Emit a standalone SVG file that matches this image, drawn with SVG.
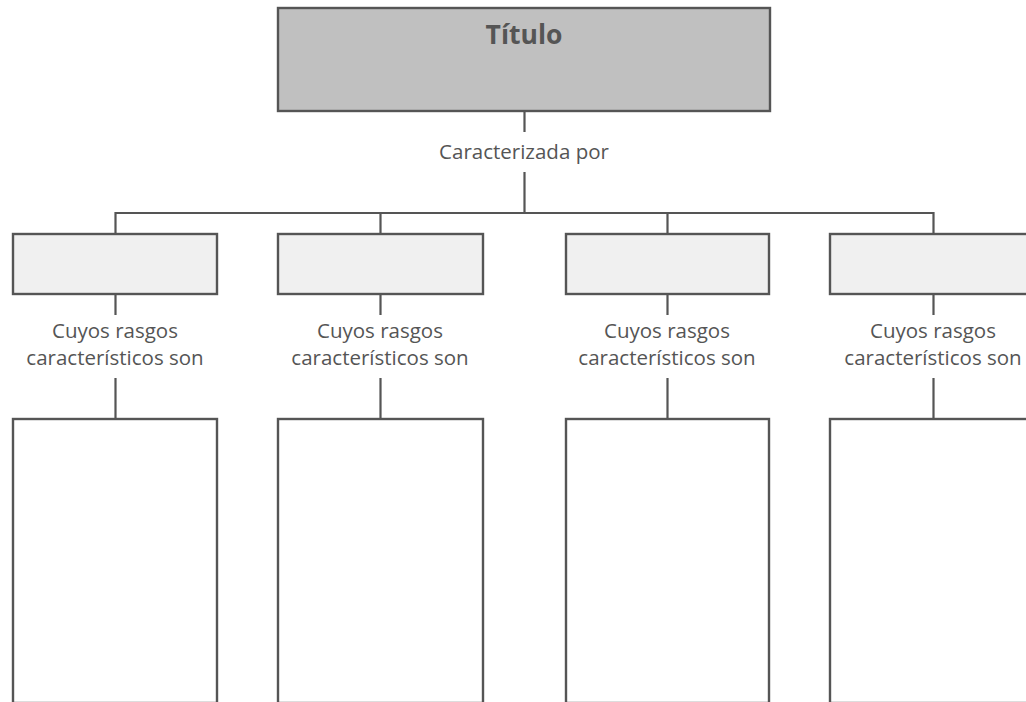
<svg xmlns="http://www.w3.org/2000/svg" width="1026" height="702" viewBox="0 0 1026 702">
<style>
.ln{stroke:#555;stroke-width:2.2;fill:none}
.bx{stroke:#555;stroke-width:2.4}
.t{font-family:"Open Sans","Noto Sans",sans-serif;fill:#555;text-anchor:middle}
.cap{font-size:20.5px}
</style>
<rect width="1026" height="702" fill="#fff"/>
<g id="connectors">
<path class="ln" d="M524.5 111V132M524.5 172V213M115.5 235V213H933.5V235M380.5 213V235M667.5 213V235"/>
<path class="ln" d="M115.5 294V315M115.5 378V419M380.5 294V315M380.5 378V419M667.5 294V315M667.5 378V419M933.5 294V315M933.5 378V419"/>
</g>
<g id="title">
<rect class="bx" x="278" y="8" width="492" height="103" fill="#c0c0c0"/>
<text class="t" x="524" y="44" font-size="26.5" font-weight="bold">Título</text>
</g>
<g id="label-caracterizada">
<text class="t cap" x="524" y="159">Caracterizada por</text>
</g>
<g id="cat1"><rect class="bx" x="13" y="234" width="204" height="60" fill="#f0f0f0"/></g>
<g id="cat2"><rect class="bx" x="278" y="234" width="205" height="60" fill="#f0f0f0"/></g>
<g id="cat3"><rect class="bx" x="566" y="234" width="203" height="60" fill="#f0f0f0"/></g>
<g id="cat4"><rect class="bx" x="830" y="234" width="210" height="60" fill="#f0f0f0"/></g>
<g id="lab1"><text class="t cap" x="115" y="338">Cuyos rasgos<tspan x="115" y="365">característicos son</tspan></text></g>
<g id="lab2"><text class="t cap" x="380" y="338">Cuyos rasgos<tspan x="380" y="365">característicos son</tspan></text></g>
<g id="lab3"><text class="t cap" x="667" y="338">Cuyos rasgos<tspan x="667" y="365">característicos son</tspan></text></g>
<g id="lab4"><text class="t cap" x="933" y="338">Cuyos rasgos<tspan x="933" y="365">característicos son</tspan></text></g>
<g id="det1"><rect class="bx" x="13" y="419" width="204" height="284" fill="#fff"/></g>
<g id="det2"><rect class="bx" x="278" y="419" width="205" height="284" fill="#fff"/></g>
<g id="det3"><rect class="bx" x="566" y="419" width="203" height="284" fill="#fff"/></g>
<g id="det4"><rect class="bx" x="830" y="419" width="210" height="284" fill="#fff"/></g>
</svg>
